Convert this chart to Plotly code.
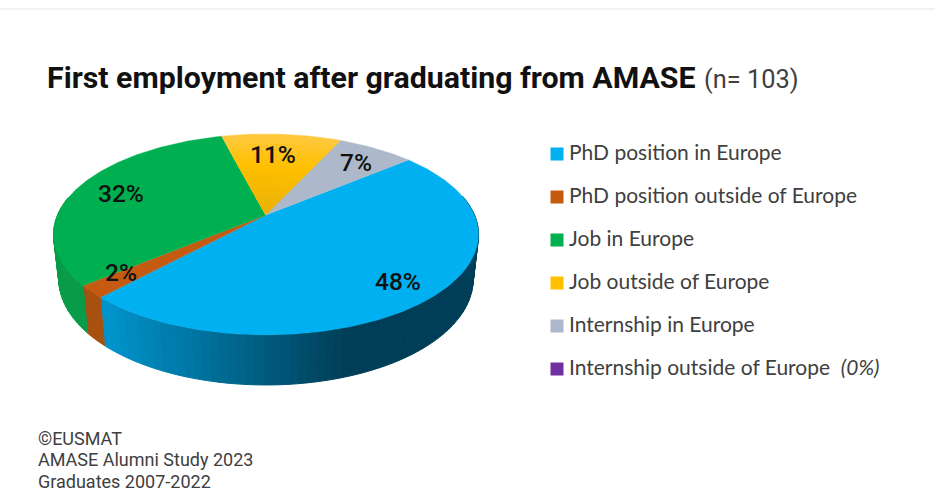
import math
import plotly.graph_objects as go

# ---- data ----
categories = ["PhD position in Europe", "PhD position outside of Europe", "Job in Europe",
              "Job outside of Europe", "Internship in Europe", "Internship outside of Europe"]
values = [48, 2, 32, 11, 7, 0]
legend_suffix = ["", "", "", "", "", "  <i>(0%)</i>"]
title_main = "First employment after graduating from AMASE"
title_n = "(n= 103)"
footer_lines = ["©EUSMAT", "AMASE Alumni Study 2023", "Graduates 2007-2022"]

# ---- style ----
colors = ["#00B0F0", "#C55A11", "#00B050", "#FFC000", "#ADB9CA", "#7030A0"]
side_near = [(0, 148, 203), (168, 80, 16), (8, 155, 72), (220, 165, 0), (140, 150, 165), (90, 40, 130)]
side_far = [(0, 62, 88), (150, 70, 14), (8, 140, 65), (220, 165, 0), (140, 150, 165), (90, 40, 130)]
label_pos = [(398, 281), (121, 272.5), (121, 193.5), (273, 154), (356, 162), None]
TEXT = "#404040"

# ---- pie geometry (projection of a tilted disc to pixels) ----
CX, CY = 266.0, 215.0
A, B, K = 208.5, 96.7, 0.194
FIRST_ANGLE = 39.8
W, H = 935, 499


def top(theta_deg, r=1.0):
    t = math.radians(theta_deg)
    u, v = r * math.cos(t), r * math.sin(t)
    w = 1 + K * v
    return CX + A * u / w, CY - B * v / w


def bottom(theta_deg):
    x, y = top(theta_deg)
    v = math.sin(math.radians(theta_deg))
    return CX + (x - CX) * 0.975, y + 43 - 7 * v


def lerp(a, b, f):
    f = max(0.0, min(1.0, f))
    return tuple(round(p + (q - p) * f) for p, q in zip(a, b))


def css(c):
    return "rgb(%d,%d,%d)" % tuple(c)


def poly(xs, ys, color, lw=0.5):
    xs, ys = list(xs) + [xs[0]], list(ys) + [ys[0]]
    return go.Scatter(x=xs, y=ys, mode="lines", fill="toself", fillcolor=color,
                      line=dict(color=color, width=lw), hoverinfo="skip", showlegend=False)


spans = []
a = FIRST_ANGLE
for val in values:
    e = a - val * 3.6
    spans.append((a, e))
    a = e

fig = go.Figure()

# side wall, strips
for i, (s, e) in enumerate(spans):
    if s == e:
        continue
    n = max(2, int(abs(s - e) / 2))
    for j in range(n):
        t0 = s + (e - s) * j / n
        t1 = s + (e - s) * (j + 1) / n
        if math.sin(math.radians((t0 + t1) / 2)) > 0.2:
            continue
        p0, p1, q1, q0 = top(t0), top(t1), bottom(t1), bottom(t0)
        xm = (p0[0] + p1[0]) / 2
        col = lerp(side_near[i], side_far[i], (xm - 106) / (345 - 106))
        fig.add_trace(poly([p0[0], p1[0], q1[0], q0[0]], [p0[1], p1[1], q1[1], q0[1]], css(col), 1.0))

# top surface
for i, (s, e) in enumerate(spans):
    if s == e:
        continue
    n = max(3, int(abs(s - e)))
    angles = [s + (e - s) * j / n for j in range(n + 1)]
    if i == 3:  # soft radial shading on the yellow slice
        bands = 14
        for b in range(bands):
            r = 1 - b / bands
            if r > 0.6:
                col = lerp((255, 192, 0), (255, 200, 60), (r - 0.6) / 0.4)
            else:
                col = lerp((232, 176, 8), (255, 192, 0), r / 0.6)
            pts = [top(t, r) for t in angles]
            fig.add_trace(poly([CX] + [p[0] for p in pts], [CY] + [p[1] for p in pts], css(col)))
    else:
        pts = [top(t) for t in angles]
        fig.add_trace(poly([CX] + [p[0] for p in pts], [CY] + [p[1] for p in pts], colors[i], 0.3))

# legend rows
ROW0, ROW = 154.0, 43.0
for i, cat in enumerate(categories):
    yy = ROW0 + ROW * i
    fig.add_trace(go.Scatter(x=[557], y=[yy], mode="markers",
                             marker=dict(symbol="square", size=13, color=colors[i]),
                             hoverinfo="skip", showlegend=False))
    fig.add_trace(go.Scatter(x=[569], y=[yy + 1.2], mode="text",
                             text=[cat + legend_suffix[i]], textposition="middle right",
                             textfont=dict(family="Lato, sans-serif", size=21, color=TEXT),
                             cliponaxis=False, hoverinfo="skip", showlegend=False))

ann = []
for val, pos in zip(values, label_pos):
    if pos:
        ann.append(dict(x=pos[0], y=pos[1], xref="x", yref="y", text=f"{val}%", showarrow=False,
                        xanchor="center", yanchor="middle",
                        font=dict(family="Roboto, sans-serif", size=24.5, color="#111111", weight=500)))
ann.append(dict(x=45, y=77, xref="x", yref="y", text=f"<b>{title_main}</b>", showarrow=False,
                xanchor="left", yanchor="middle", font=dict(family="Roboto, sans-serif", size=30.3, color="#111111")))
ann.append(dict(x=701.5, y=79, xref="x", yref="y", text=title_n, showarrow=False,
                xanchor="left", yanchor="middle", font=dict(family="Roboto, sans-serif", size=25.4, color=TEXT)))
for k, line in enumerate(footer_lines):
    ann.append(dict(x=36, y=438 + 21.5 * k, xref="x", yref="y", text=line, showarrow=False,
                    xanchor="left", yanchor="middle", font=dict(family="Roboto, sans-serif", size=18, color=TEXT)))

fig.update_layout(
    width=W, height=H, margin=dict(l=0, r=0, t=0, b=0), autosize=False,
    paper_bgcolor="white", plot_bgcolor="white", showlegend=False, annotations=ann,
    xaxis=dict(range=[0, W], visible=False, fixedrange=True),
    yaxis=dict(range=[H, 0], visible=False, fixedrange=True),
    shapes=[dict(type="line", xref="x", yref="y", x0=0, x1=W, y0=9, y1=9,
                 line=dict(color="#E3E4E8", width=1))],
)
fig.write_html("out.html", post_script="document.body.style.margin='0';",
               config=dict(displayModeBar=False))
